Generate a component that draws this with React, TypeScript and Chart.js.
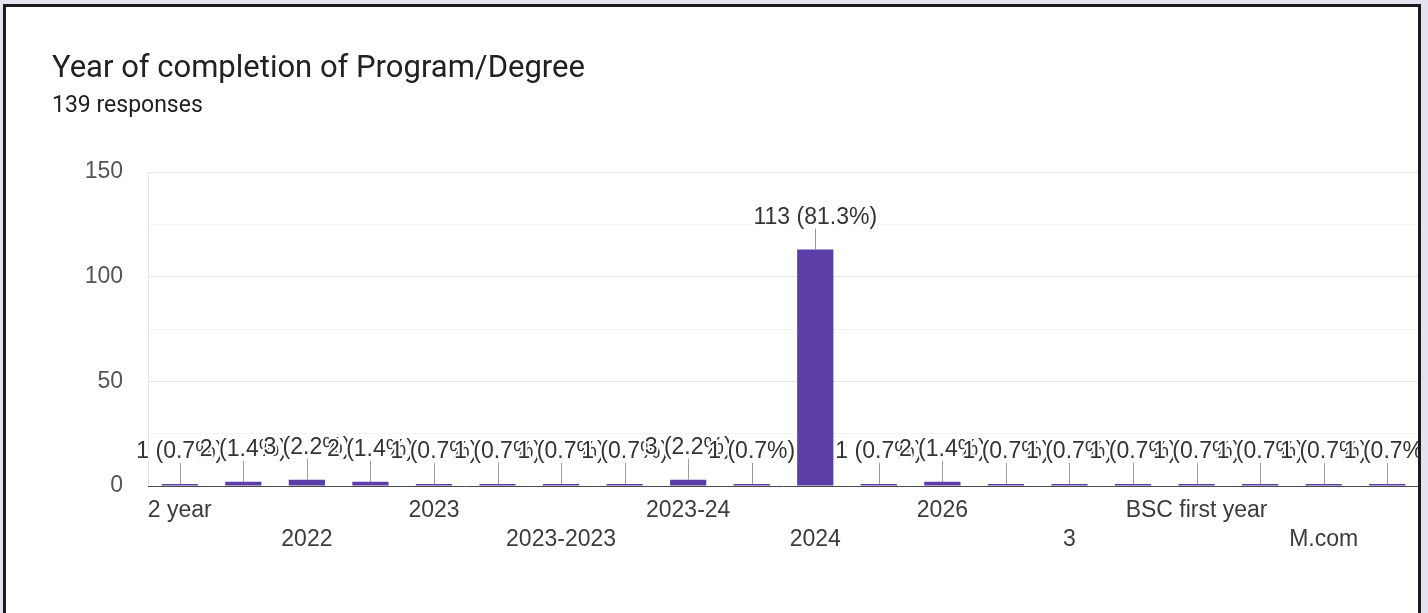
import React, { useEffect, useRef } from 'react';
import { Chart, registerables } from 'chart.js';

Chart.register(...registerables);

// ---- data ----
const categories: string[] = [
  '2 year', '2021', '2022', '2022-2023', '2023', '2023 batch', '2023-2023', '2023-2024',
  '2023-24', '2023-25', '2024', '2025', '2026', '2027', '3', '3rd year',
  'BSC first year', 'Final year', 'M.com', 'Second year',
];
const counts: number[] = [1, 2, 3, 2, 1, 1, 1, 1, 3, 1, 113, 1, 2, 1, 1, 1, 1, 1, 1, 1];
const percents: string[] = [
  '0.7%', '1.4%', '2.2%', '1.4%', '0.7%', '0.7%', '0.7%', '0.7%', '2.2%', '0.7%',
  '81.3%', '0.7%', '1.4%', '0.7%', '0.7%', '0.7%', '0.7%', '0.7%', '0.7%', '0.7%',
];
const yTickLabels: number[] = [0, 50, 100, 150];
const titleText = 'Year of completion of Program/Degree';
const subtitleText = '139 responses';

const BAR_COLOR = '#5b3ea8';
const CHART_FONT = '"Liberation Sans", Arial, sans-serif';

const annotationPlugin = {
  id: 'barAnnotations',
  afterDatasetsDraw(chart: any) {
    const ctx = chart.ctx as CanvasRenderingContext2D;
    const meta = chart.getDatasetMeta(0);
    const yScale = chart.scales.y;
    const area = chart.chartArea;
    ctx.save();
    // baseline
    const y0 = Math.round(yScale.getPixelForValue(0)) + 0.5;
    ctx.strokeStyle = '#4a4a4a';
    ctx.lineWidth = 1;
    ctx.beginPath();
    ctx.moveTo(area.left, y0);
    ctx.lineTo(area.right, y0);
    ctx.stroke();

    ctx.font = `23px ${CHART_FONT}`;
    ctx.textAlign = 'center';
    ctx.textBaseline = 'middle';
    ctx.lineJoin = 'round';
    meta.data.forEach((bar: any, i: number) => {
      const x = Math.round(bar.x) + 0.5;
      const top = bar.y;
      ctx.strokeStyle = '#9a9a9a';
      ctx.lineWidth = 1;
      ctx.beginPath();
      ctx.moveTo(x, top);
      ctx.lineTo(x, top - 21);
      ctx.stroke();
      const text = `${counts[i]} (${percents[i]})`;
      const ly = top - 32;
      ctx.strokeStyle = '#ffffff';
      ctx.lineWidth = 4;
      ctx.strokeText(text, bar.x, ly);
      ctx.fillStyle = '#333333';
      ctx.fillText(text, bar.x, ly);
    });
    ctx.restore();
  },
};

export default function App() {
  const canvasRef = useRef<HTMLCanvasElement | null>(null);

  useEffect(() => {
    if (!canvasRef.current) return;
    const chart = new Chart(canvasRef.current, {
      type: 'bar',
      data: {
        labels: categories,
        datasets: [
          {
            data: counts,
            backgroundColor: BAR_COLOR,
            borderWidth: 0,
            categoryPercentage: 1,
            barPercentage: 0.57,
          },
        ],
      },
      plugins: [annotationPlugin],
      options: {
        responsive: false,
        animation: false,
        devicePixelRatio: 1,
        layout: { padding: { top: 172, left: 0, right: 9, bottom: 27 } },
        plugins: {
          legend: { display: false },
          tooltip: { enabled: false },
          title: { display: false },
        },
        scales: {
          x: {
            grid: { display: false, drawTicks: false },
            border: { display: false },
            afterFit: (scale: any) => {
              scale.height = 100;
              scale.paddingLeft = 0;
              scale.paddingRight = 0;
            },
            ticks: {
              autoSkip: false,
              maxRotation: 0,
              minRotation: 0,
              padding: 10,
              color: '#3c3c3c',
              font: { family: CHART_FONT, size: 23, lineHeight: '29px' },
              callback: (_v: any, index: number) => {
                if (index % 2 === 1) return '';
                const label = categories[index];
                return index % 4 === 0 ? label : ['', label];
              },
            },
          },
          y: {
            min: 0,
            max: 150,
            afterFit: (scale: any) => {
              scale.width = 148;
            },
            border: { display: true, color: '#e6e6e6' },
            grid: {
              drawTicks: false,
              color: (ctx: any) => {
                const v = ctx.tick ? ctx.tick.value : 0;
                if (v === 0) return 'rgba(0,0,0,0)';
                return yTickLabels.includes(v) ? '#e4e4e4' : '#f3f3f3';
              },
            },
            ticks: {
              stepSize: 25,
              padding: 25,
              color: '#555555',
              font: { family: CHART_FONT, size: 23 },
              callback: (v: any) => (yTickLabels.includes(Number(v)) ? String(v) : ''),
            },
          },
        },
      },
    });
    return () => chart.destroy();
  }, []);

  return (
    <div
      style={{
        position: 'absolute',
        left: 0,
        top: 0,
        width: 1428,
        height: 613,
        overflow: 'hidden',
        background: '#e6e1ee',
      }}
    >
      <div
        style={{
          position: 'absolute',
          left: 3,
          top: 4,
          width: 1418,
          height: 700,
          boxSizing: 'border-box',
          border: '3px solid #1c1c1c',
          background: '#ffffff',
        }}
      />
      <div
        style={{
          position: 'absolute',
          left: 6,
          top: 7,
          width: 1412,
          height: 606,
          overflow: 'hidden',
        }}
      >
        <canvas
          ref={canvasRef}
          width={1428}
          height={613}
          style={{ position: 'absolute', left: -6, top: -7, width: 1428, height: 613 }}
        />
        <div
          style={{
            position: 'absolute',
            left: 46,
            top: 44,
            fontFamily: 'Roboto, sans-serif',
            fontSize: 31,
            lineHeight: '31px',
            color: '#202124',
            whiteSpace: 'nowrap',
          }}
        >
          {titleText}
        </div>
        <div
          style={{
            position: 'absolute',
            left: 46,
            top: 85.5,
            fontFamily: 'Roboto, sans-serif',
            fontSize: 23,
            lineHeight: '23px',
            color: '#202124',
            whiteSpace: 'nowrap',
          }}
        >
          {subtitleText}
        </div>
      </div>
    </div>
  );
}
